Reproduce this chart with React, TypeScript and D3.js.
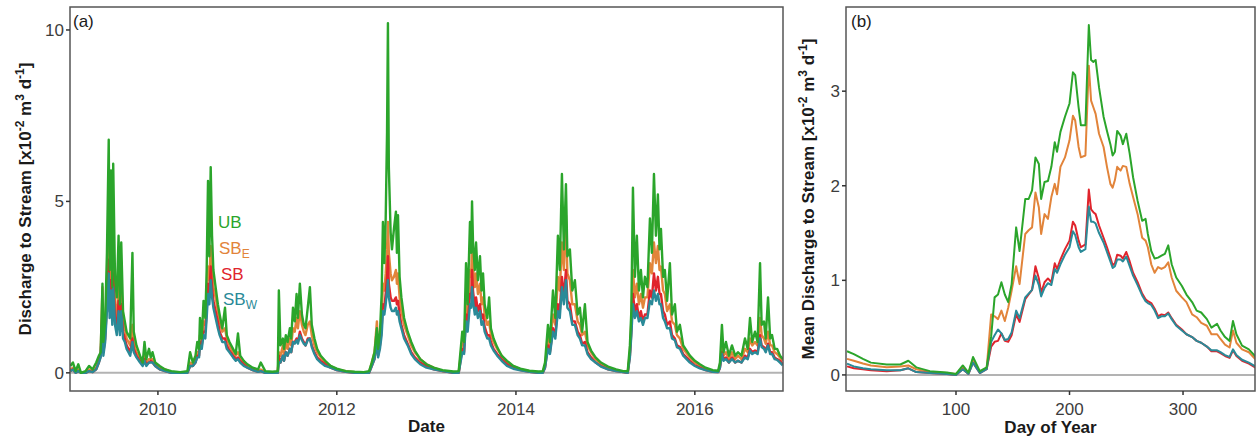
import React from 'react';
import * as d3 from 'd3';

// panel (a): daily discharge, time as decimal year
const decYear = [
  2009.02, 2009.05, 2009.08, 2009.11, 2009.14, 2009.19, 2009.23, 2009.27, 2009.31, 2009.34,
  2009.36, 2009.38, 2009.39, 2009.41, 2009.43, 2009.45, 2009.46, 2009.475, 2009.49, 2009.50,
  2009.52, 2009.54, 2009.56, 2009.575, 2009.59, 2009.61, 2009.63, 2009.65, 2009.67, 2009.69,
  2009.715, 2009.73, 2009.76, 2009.80, 2009.83, 2009.85, 2009.87, 2009.90, 2009.92, 2009.94,
  2009.97, 2010.02, 2010.08, 2010.15, 2010.25, 2010.33,
  2010.36, 2010.39, 2010.42, 2010.44, 2010.46, 2010.47, 2010.49, 2010.51, 2010.53, 2010.545,
  2010.56, 2010.575, 2010.59, 2010.605, 2010.62, 2010.645, 2010.67, 2010.69, 2010.72, 2010.75,
  2010.77, 2010.80, 2010.84, 2010.87, 2010.895, 2010.92, 2010.96, 2011.00, 2011.06, 2011.12,
  2011.15, 2011.20, 2011.28, 2011.34,
  2011.352, 2011.37, 2011.397, 2011.41, 2011.43, 2011.45, 2011.475, 2011.49, 2011.51, 2011.53,
  2011.55, 2011.565, 2011.587, 2011.61, 2011.631, 2011.65, 2011.675, 2011.699, 2011.72, 2011.75,
  2011.78, 2011.82, 2011.87, 2011.93, 2012.00, 2012.10, 2012.20, 2012.30, 2012.36,
  2012.39, 2012.42, 2012.447, 2012.46, 2012.481, 2012.50, 2012.514, 2012.53, 2012.545, 2012.56,
  2012.57, 2012.58, 2012.60, 2012.615, 2012.637, 2012.659, 2012.67, 2012.682, 2012.70, 2012.72,
  2012.75, 2012.79, 2012.83, 2012.87, 2012.93, 2013.00, 2013.08, 2013.18, 2013.30, 2013.36,
  2013.40, 2013.42, 2013.442, 2013.46, 2013.486, 2013.50, 2013.509, 2013.52, 2013.54, 2013.554,
  2013.575, 2013.598, 2013.615, 2013.632, 2013.65, 2013.68, 2013.70, 2013.72, 2013.75, 2013.79,
  2013.84, 2013.90, 2013.97, 2014.05, 2014.15, 2014.25, 2014.30,
  2014.325, 2014.358, 2014.38, 2014.414, 2014.44, 2014.469, 2014.49, 2014.514, 2014.536, 2014.559,
  2014.575, 2014.603, 2014.63, 2014.659, 2014.69, 2014.715, 2014.74, 2014.771, 2014.80, 2014.84,
  2014.89, 2014.95, 2015.03, 2015.12, 2015.20, 2015.25,
  2015.274, 2015.29, 2015.308, 2015.33, 2015.352, 2015.375, 2015.397, 2015.42, 2015.442, 2015.47,
  2015.498, 2015.52, 2015.543, 2015.565, 2015.587, 2015.605, 2015.621, 2015.645, 2015.665, 2015.69,
  2015.721, 2015.745, 2015.777, 2015.80, 2015.833, 2015.87, 2015.945, 2016.00, 2016.056, 2016.12,
  2016.20, 2016.26,
  2016.28, 2016.302, 2016.32, 2016.347, 2016.38, 2016.414, 2016.45, 2016.481, 2016.52, 2016.559,
  2016.59, 2016.615, 2016.64, 2016.671, 2016.70, 2016.727, 2016.745, 2016.771, 2016.79, 2016.816,
  2016.84, 2016.861, 2016.89, 2016.917, 2016.95, 2016.98,
];

const ubDaily = [
  0.2, 0.3, 0.05, 0.25, 0.0, 0.05, 0.2, 0.1, 0.3, 0.5,
  0.6, 2.6, 0.9, 1.5, 3.5, 6.8, 3.0, 5.9, 2.5, 6.1,
  2.8, 2.2, 4.0, 2.0, 3.8, 1.8, 1.5, 1.2, 1.1, 1.0,
  3.5, 1.2, 0.8, 0.5, 0.3, 0.9, 0.4, 0.7, 0.45, 0.6,
  0.3, 0.2, 0.1, 0.05, 0.02, 0.05,
  0.6, 0.3, 0.5, 0.9, 0.7, 1.6, 1.0, 2.1, 1.6, 3.0,
  5.6, 3.4, 6.0, 4.0, 3.0, 2.5, 2.0, 1.7, 1.3, 1.9,
  1.1, 0.9, 0.7, 0.55, 1.15, 0.5, 0.35, 0.25, 0.15, 0.1,
  0.3, 0.05, 0.03, 0.05,
  2.4, 0.8, 1.0, 0.7, 1.1, 0.9, 1.3, 1.0, 1.9, 1.5,
  2.3, 1.6, 2.6, 1.7, 1.4, 1.3, 1.9, 2.5, 1.4, 1.0,
  0.7, 0.5, 0.35, 0.2, 0.12, 0.05, 0.03, 0.02, 0.05,
  0.3, 0.6, 1.3, 0.7, 1.2, 2.3, 4.4, 3.2, 4.5, 7.0,
  10.2, 6.0, 4.1, 3.6, 4.2, 4.7, 3.5, 4.6, 2.8, 2.2,
  1.6, 1.2, 0.9, 0.65, 0.4, 0.25, 0.15, 0.08, 0.04, 0.05,
  1.2, 0.9, 3.2, 2.0, 4.4, 3.5, 5.0, 3.8, 3.0, 3.8,
  2.7, 3.4, 2.4, 2.9, 2.0, 1.6, 2.2, 1.3, 1.0, 0.75,
  0.5, 0.35, 0.2, 0.12, 0.06, 0.04, 0.05,
  0.3, 1.4, 0.9, 2.4, 1.6, 4.0, 3.0, 5.8, 3.6, 5.5,
  3.4, 3.6, 2.4, 2.7, 1.7, 1.9, 1.2, 2.0, 0.9, 0.65,
  0.45, 0.3, 0.18, 0.1, 0.05, 0.05,
  0.8, 1.8, 5.4, 2.8, 4.0, 2.4, 3.0, 2.2, 2.8, 2.5,
  4.5, 3.5, 5.8, 4.0, 5.2, 3.6, 4.2, 2.8, 3.0, 2.1,
  3.2, 1.7, 2.0, 1.2, 1.4, 0.8, 0.5, 0.35, 0.25, 0.15,
  0.08, 0.06,
  0.3, 1.4, 0.6, 0.9, 0.5, 0.8, 0.5, 0.6, 0.5, 1.0,
  0.7, 1.6, 0.9, 1.2, 0.9, 3.2, 1.4, 1.5, 1.0, 2.2,
  1.0, 1.1, 0.7, 0.7, 0.5, 0.4,
];

const sbeDaily = [
  0.1, 0.15, 0.02, 0.1, 0, 0, 0.1, 0.05, 0.15, 0.4,
  0.6, 2.5, 0.8, 1.3, 2.6, 3.9, 2.2, 3.3, 2.0, 3.5,
  2.0, 1.6, 2.6, 1.6, 2.6, 1.5, 1.3, 1.0, 0.9, 0.8,
  1.4, 0.9, 0.6, 0.45, 0.3, 0.5, 0.3, 0.4, 0.4, 0.4,
  0.25, 0.15, 0.1, 0.02, 0, 0.02,
  0.3, 0.25, 0.4, 0.6, 0.6, 1.1, 0.9, 1.5, 1.4, 2.2,
  3.1, 2.7, 3.7, 3.0, 2.5, 2.2, 1.8, 1.5, 1.2, 1.3,
  1.0, 0.8, 0.6, 0.5, 0.6, 0.45, 0.3, 0.2, 0.1, 0.05,
  0.1, 0.02, 0, 0.02,
  0.6, 0.5, 0.8, 0.5, 0.9, 0.7, 1.0, 0.8, 1.3, 1.2,
  1.6, 1.3, 1.8, 1.4, 1.2, 1.1, 1.4, 1.5, 1.1, 0.8,
  0.6, 0.45, 0.3, 0.2, 0.1, 0.05, 0.02, 0, 0.02,
  0.3, 0.6, 1.5, 0.6, 1.0, 1.6, 2.6, 2.4, 2.9, 3.6,
  4.4, 3.5, 2.9, 2.7, 2.8, 3.0, 2.6, 2.9, 2.2, 1.8,
  1.4, 1.1, 0.8, 0.6, 0.4, 0.25, 0.15, 0.05, 0.02, 0.02,
  0.9, 0.8, 2.2, 1.7, 3.0, 2.8, 3.9, 3.1, 2.5, 2.9,
  2.3, 2.6, 2.0, 2.2, 1.7, 1.4, 1.5, 1.1, 0.9, 0.7,
  0.5, 0.3, 0.2, 0.1, 0.05, 0.02, 0.03,
  0.2, 1.0, 0.8, 1.7, 1.4, 2.8, 2.4, 3.8, 3.0, 4.6,
  2.9, 2.7, 2.0, 2.0, 1.5, 1.4, 1.1, 1.2, 0.8, 0.6,
  0.4, 0.25, 0.15, 0.08, 0.03, 0.02,
  0.6, 1.5, 3.0, 2.2, 2.6, 2.0, 2.3, 1.9, 2.2, 2.2,
  3.2, 2.9, 3.8, 3.2, 3.7, 3.0, 3.1, 2.4, 2.3, 1.8,
  2.0, 1.5, 1.4, 1.1, 1.0, 0.7, 0.45, 0.3, 0.2, 0.12,
  0.05, 0.03,
  0.2, 0.8, 0.5, 0.6, 0.4, 0.6, 0.4, 0.5, 0.4, 0.7,
  0.6, 1.0, 0.8, 0.9, 0.8, 1.6, 1.1, 1.0, 0.85, 1.2,
  0.8, 0.8, 0.6, 0.55, 0.45, 0.35,
];

const sbDaily = [
  0.05, 0.1, 0, 0.05, 0, 0, 0.05, 0.02, 0.1, 0.3,
  0.5, 1.8, 0.6, 1.0, 2.0, 3.3, 1.8, 2.7, 1.6, 2.9,
  1.6, 1.3, 2.1, 1.3, 2.0, 1.2, 1.0, 0.8, 0.7, 0.6,
  1.0, 0.7, 0.5, 0.35, 0.25, 0.4, 0.25, 0.3, 0.35, 0.3,
  0.2, 0.1, 0.05, 0, 0, 0,
  0.2, 0.2, 0.3, 0.5, 0.5, 0.9, 0.8, 1.2, 1.2, 1.8,
  2.6, 2.3, 3.1, 2.5, 2.1, 1.8, 1.5, 1.2, 1.0, 1.0,
  0.8, 0.65, 0.5, 0.4, 0.45, 0.35, 0.25, 0.15, 0.08, 0.03,
  0.05, 0, 0, 0,
  0.5, 0.3, 0.5, 0.35, 0.6, 0.5, 0.7, 0.6, 0.9, 0.9,
  1.0, 0.9, 1.2, 1.0, 0.9, 0.8, 1.0, 1.0, 0.8, 0.6,
  0.45, 0.35, 0.25, 0.15, 0.08, 0.03, 0, 0, 0,
  0.2, 0.4, 1.0, 0.5, 0.8, 1.3, 2.0, 1.9, 2.3, 2.8,
  3.4, 2.6, 2.2, 2.1, 2.1, 2.2, 2.0, 2.1, 1.7, 1.4,
  1.1, 0.85, 0.6, 0.45, 0.3, 0.2, 0.1, 0.05, 0, 0,
  0.7, 0.6, 1.7, 1.4, 2.3, 2.2, 3.0, 2.4, 1.9, 2.2,
  1.8, 2.0, 1.6, 1.7, 1.35, 1.1, 1.1, 0.9, 0.7, 0.55,
  0.4, 0.25, 0.15, 0.08, 0.03, 0, 0,
  0.15, 0.8, 0.6, 1.3, 1.1, 2.0, 1.8, 2.8, 2.2, 3.0,
  2.1, 2.0, 1.5, 1.5, 1.2, 1.1, 0.85, 0.9, 0.6, 0.45,
  0.3, 0.2, 0.1, 0.05, 0.02, 0,
  0.5, 1.2, 2.3, 1.8, 2.0, 1.6, 1.8, 1.5, 1.7, 1.7,
  2.4, 2.2, 2.9, 2.4, 2.8, 2.3, 2.3, 1.8, 1.7, 1.4,
  1.5, 1.1, 1.0, 0.8, 0.75, 0.55, 0.35, 0.22, 0.15, 0.08,
  0.03, 0.02,
  0.15, 0.6, 0.4, 0.45, 0.3, 0.45, 0.3, 0.35, 0.3, 0.5,
  0.45, 0.7, 0.6, 0.65, 0.6, 1.1, 0.8, 0.75, 0.65, 0.85,
  0.6, 0.6, 0.45, 0.4, 0.35, 0.25,
];

const sbwDaily = [
  0.05, 0.1, 0, 0.05, 0, 0, 0.05, 0.02, 0.1, 0.3,
  0.45, 1.6, 0.5, 0.9, 1.8, 2.9, 1.6, 2.4, 1.4, 2.5,
  1.4, 1.1, 1.8, 1.1, 1.8, 1.0, 0.9, 0.7, 0.6, 0.5,
  0.9, 0.6, 0.45, 0.3, 0.2, 0.35, 0.2, 0.3, 0.3, 0.3,
  0.2, 0.1, 0.05, 0, 0, 0,
  0.2, 0.2, 0.3, 0.45, 0.45, 0.8, 0.7, 1.1, 1.0, 1.6,
  2.3, 2.0, 2.7, 2.2, 1.9, 1.6, 1.3, 1.1, 0.9, 0.9,
  0.7, 0.6, 0.45, 0.35, 0.4, 0.3, 0.2, 0.15, 0.08, 0.03,
  0.05, 0, 0, 0,
  0.3, 0.3, 0.5, 0.35, 0.6, 0.5, 0.7, 0.6, 0.9, 0.85,
  0.95, 0.85, 1.1, 0.95, 0.85, 0.8, 0.95, 1.0, 0.75, 0.55,
  0.4, 0.3, 0.2, 0.15, 0.08, 0.03, 0, 0, 0,
  0.2, 0.4, 0.9, 0.45, 0.7, 1.1, 1.8, 1.7, 2.0, 2.4,
  2.7, 2.2, 1.9, 1.8, 1.8, 1.9, 1.7, 1.8, 1.5, 1.3,
  1.0, 0.8, 0.55, 0.4, 0.25, 0.15, 0.1, 0.05, 0, 0,
  0.6, 0.55, 1.5, 1.2, 2.0, 1.9, 2.5, 2.1, 1.7, 1.9,
  1.6, 1.8, 1.4, 1.5, 1.2, 1.0, 1.0, 0.8, 0.65, 0.5,
  0.35, 0.2, 0.12, 0.07, 0.03, 0, 0,
  0.15, 0.7, 0.55, 1.2, 1.0, 1.8, 1.6, 2.5, 2.0, 2.7,
  1.9, 1.8, 1.4, 1.4, 1.1, 1.0, 0.8, 0.8, 0.55, 0.4,
  0.3, 0.18, 0.1, 0.05, 0.02, 0,
  0.45, 1.1, 2.0, 1.6, 1.8, 1.5, 1.6, 1.4, 1.6, 1.6,
  2.1, 2.0, 2.4, 2.1, 2.3, 2.0, 2.0, 1.6, 1.5, 1.3,
  1.3, 1.0, 0.95, 0.75, 0.7, 0.5, 0.3, 0.2, 0.13, 0.08,
  0.03, 0.02,
  0.15, 0.55, 0.35, 0.4, 0.3, 0.4, 0.3, 0.35, 0.3, 0.45,
  0.4, 0.65, 0.55, 0.6, 0.55, 1.0, 0.75, 0.7, 0.6, 0.8,
  0.55, 0.55, 0.4, 0.38, 0.3, 0.22,
];

// panel (b): mean by day of year
const dayOfYear = [
  4, 10, 18, 25, 39, 51, 58, 65, 77, 92,
  100, 106, 111, 115, 121, 127, 131, 134, 137, 140,
  143, 146, 149, 153, 156, 161, 164, 167, 170, 173,
  175, 178, 181, 184, 187, 189, 192, 196, 200, 203,
  205, 208, 210, 214, 217, 219, 221, 223, 226, 230,
  233, 236, 238, 240, 242, 245, 247, 250, 253, 256,
  260, 264, 267, 269, 272, 275, 278, 281, 284, 287,
  290, 294, 299, 303, 308, 312, 316, 321, 325, 330,
  333, 337, 341, 344, 347, 352, 358, 365,
];

const ubMean = [
  0.25, 0.22, 0.17, 0.13, 0.11, 0.11, 0.15, 0.08, 0.04, 0.025,
  0.01, 0.1, 0.025, 0.19, 0.04, 0.08, 0.41, 0.82, 0.85, 0.98,
  0.85, 0.77, 0.96, 1.56, 1.31, 1.86, 1.86, 1.95, 2.3, 2.23,
  1.86, 2.04, 2.05, 2.2, 2.46, 2.36, 2.57, 2.73, 2.87, 3.2,
  3.17, 2.83, 2.64, 2.64, 3.7, 3.33, 3.31, 3.33, 3.04, 2.73,
  2.58, 2.44, 2.32, 2.36, 2.58, 2.53, 2.44, 2.55, 2.34, 2.09,
  1.84, 1.63, 1.65, 1.49, 1.31, 1.23, 1.24, 1.26, 1.28, 1.37,
  1.17, 1.03, 0.94, 0.85, 0.77, 0.68, 0.66, 0.59, 0.5, 0.54,
  0.47, 0.4, 0.36, 0.57, 0.43, 0.31, 0.27, 0.18,
];

const sbeMean = [
  0.17, 0.15, 0.12, 0.1, 0.08, 0.09, 0.1, 0.06, 0.03, 0.02,
  0.01, 0.08, 0.02, 0.17, 0.03, 0.07, 0.64, 0.62, 0.59, 0.68,
  0.57, 0.71, 0.89, 1.15, 0.96, 1.49, 1.53, 1.56, 1.93, 1.77,
  1.49, 1.7, 1.65, 1.88, 2.02, 1.91, 2.2, 2.3, 2.48, 2.74,
  2.69, 2.41, 2.3, 2.32, 3.27, 2.9, 2.83, 2.76, 2.55, 2.41,
  2.2, 2.02, 1.98, 2.06, 2.2, 2.16, 2.21, 2.2, 2.02, 1.88,
  1.7, 1.45, 1.42, 1.35, 1.17, 1.08, 1.14, 1.12, 1.14, 1.19,
  1.03, 0.89, 0.82, 0.77, 0.64, 0.61, 0.55, 0.52, 0.43, 0.43,
  0.38, 0.32, 0.29, 0.47, 0.34, 0.27, 0.24, 0.15,
];

const sbMean = [
  0.09, 0.07, 0.06, 0.05, 0.04, 0.05, 0.07, 0.03, 0.02, 0.01,
  0.0, 0.06, 0.01, 0.13, 0.02, 0.06, 0.3, 0.35, 0.36, 0.44,
  0.36, 0.35, 0.42, 0.64, 0.56, 0.8, 0.85, 0.9, 1.15, 1.02,
  0.87, 0.98, 1.02, 0.98, 1.18, 1.12, 1.22, 1.33, 1.42, 1.62,
  1.58, 1.42, 1.35, 1.38, 1.96, 1.75, 1.72, 1.7, 1.58, 1.45,
  1.35, 1.24, 1.16, 1.18, 1.27, 1.26, 1.23, 1.3, 1.2, 1.08,
  0.98, 0.86, 0.8, 0.78, 0.76, 0.7, 0.62, 0.64, 0.63, 0.66,
  0.6, 0.53, 0.48, 0.43, 0.4, 0.36, 0.34, 0.3, 0.25, 0.25,
  0.23, 0.2, 0.18, 0.26, 0.2, 0.15, 0.12, 0.07,
];

const sbwMean = [
  0.12, 0.09, 0.07, 0.06, 0.05, 0.05, 0.07, 0.03, 0.02, 0.01,
  0.0, 0.06, 0.01, 0.13, 0.02, 0.06, 0.35, 0.42, 0.48, 0.44,
  0.37, 0.38, 0.45, 0.68, 0.6, 0.82, 0.86, 0.9, 1.05, 0.95,
  0.83, 0.92, 0.97, 0.95, 1.12, 1.08, 1.17, 1.27, 1.35, 1.52,
  1.48, 1.35, 1.3, 1.33, 1.78, 1.62, 1.62, 1.6, 1.5, 1.4,
  1.3, 1.2, 1.13, 1.15, 1.22, 1.22, 1.2, 1.25, 1.15, 1.05,
  0.95, 0.84, 0.78, 0.76, 0.74, 0.68, 0.6, 0.62, 0.62, 0.65,
  0.59, 0.52, 0.47, 0.43, 0.4, 0.36, 0.34, 0.3, 0.26, 0.26,
  0.24, 0.21, 0.19, 0.27, 0.21, 0.16, 0.13, 0.08,
];

const leftYTicks = [0, 5, 10];
const rightYTicks = [0, 1, 2, 3];
const rightXTicks = [100, 200, 300];

const COLORS = { UB: '#2ba52b', SBE: '#e2843a', SB: '#e0242c', SBW: '#2a8a98' };
const FONT = '"Liberation Sans", Arial, Helvetica, sans-serif';
const TICK_COL = '#3d3d3d';

const toDate = (t: number) => {
  const y = Math.floor(t);
  const a = Date.UTC(y, 0, 1);
  const b = Date.UTC(y + 1, 0, 1);
  return new Date(a + (t - y) * (b - a));
};

function AxisTitle({ x, y, rotate, children }: any) {
  return (
    <text
      transform={`translate(${x},${y})${rotate ? ' rotate(-90)' : ''}`}
      textAnchor="middle"
      fontWeight="bold"
      fontSize={17}
      fill="#1a1a1a"
    >
      {children}
    </text>
  );
}

function UnitLabel({ prefix }: { prefix: string }) {
  return (
    <>
      <tspan>{prefix} [x10</tspan>
      <tspan fontSize={12} dy={-7}>-2</tspan>
      <tspan dy={7}> m</tspan>
      <tspan fontSize={12} dy={-7}>3</tspan>
      <tspan dy={7}> d</tspan>
      <tspan fontSize={12} dy={-7}>-1</tspan>
      <tspan dy={7}>]</tspan>
    </>
  );
}

export default function App() {
  // panel boxes
  const L = { x0: 70, x1: 783, y0: 7, y1: 391 };
  const R = { x0: 846, x1: 1255, y0: 7, y1: 391 };

  const xL = d3.scaleUtc().domain([toDate(2009.017), toDate(2016.983)]).range([L.x0, L.x1]);
  const yL = d3.scaleLinear().domain([-0.53, 10.67]).range([L.y1, L.y0]);
  const xR = d3.scaleLinear().domain([3.1, 363.4]).range([R.x0, R.x1]);
  const yR = d3.scaleLinear().domain([-0.17, 3.89]).range([R.y1, R.y0]);

  const dates = decYear.map(toDate);
  const lineL = (vals: number[]) =>
    d3.line<number>().x((_, i) => xL(dates[i])).y((d) => yL(d))(vals) || '';
  const lineR = (vals: number[]) =>
    d3.line<number>().x((_, i) => xR(dayOfYear[i])).y((d) => yR(d))(vals) || '';

  const seriesL = [
    { v: sbeDaily, c: COLORS.SBE },
    { v: sbDaily, c: COLORS.SB },
    { v: sbwDaily, c: COLORS.SBW },
    { v: ubDaily, c: COLORS.UB },
  ];
  const seriesR = [
    { v: sbeMean, c: COLORS.SBE },
    { v: sbMean, c: COLORS.SB },
    { v: sbwMean, c: COLORS.SBW },
    { v: ubMean, c: COLORS.UB },
  ];
  const yearTicks = xL.ticks(d3.utcYear.every(2) as any).filter((d) => d.getUTCFullYear() >= 2010);

  return (
    <svg
      width={1258}
      height={436}
      style={{ position: 'fixed', left: 0, top: 0, background: '#fff' }}
      fontFamily={FONT}
    >
      <defs>
        <clipPath id="clipL">
          <rect x={L.x0} y={L.y0} width={L.x1 - L.x0} height={L.y1 - L.y0} />
        </clipPath>
        <clipPath id="clipR">
          <rect x={R.x0} y={R.y0} width={R.x1 - R.x0} height={R.y1 - R.y0} />
        </clipPath>
      </defs>

      {/* panel a */}
      <line x1={L.x0} x2={L.x1} y1={yL(0)} y2={yL(0)} stroke="#b3b3b3" strokeWidth={2} />
      <g clipPath="url(#clipL)">
        {seriesL.map((s, i) => (
          <path key={i} d={lineL(s.v)} fill="none" stroke={s.c} strokeWidth={2.4} strokeLinejoin="round" />
        ))}
      </g>
      <rect x={L.x0} y={L.y0} width={L.x1 - L.x0} height={L.y1 - L.y0} fill="none" stroke="#555" strokeWidth={1.5} />
      {leftYTicks.map((t) => (
        <g key={t}>
          <line x1={L.x0 - 4} x2={L.x0} y1={yL(t)} y2={yL(t)} stroke="#333" strokeWidth={1.5} />
          <text x={L.x0 - 6} y={yL(t)} dy="0.35em" textAnchor="end" fontSize={17} fill={TICK_COL}>{t}</text>
        </g>
      ))}
      {yearTicks.map((d) => (
        <g key={d.toISOString()}>
          <line x1={xL(d)} x2={xL(d)} y1={L.y1} y2={L.y1 + 4} stroke="#333" strokeWidth={1.5} />
          <text x={xL(d)} y={415} textAnchor="middle" fontSize={17} fill={TICK_COL}>{d3.utcFormat('%Y')(d)}</text>
        </g>
      ))}
      <text x={73} y={27} fontSize={17} fill="#1a1a1a">(a)</text>
      <AxisTitle x={(L.x0 + L.x1) / 2} y={432}>Date</AxisTitle>
      <AxisTitle x={31} y={(L.y0 + L.y1) / 2} rotate>
        <UnitLabel prefix="Discharge to Stream" />
      </AxisTitle>

      {/* legend labels */}
      <g fontSize={17}>
        <text x={218} y={228} fill={COLORS.UB}>UB</text>
        <text x={219} y={254} fill={COLORS.SBE}>SB<tspan fontSize={12} dy={4}>E</tspan></text>
        <text x={221} y={280} fill={COLORS.SB}>SB</text>
        <text x={223} y={305} fill={COLORS.SBW}>SB<tspan fontSize={12} dy={4}>W</tspan></text>
      </g>

      {/* panel b */}
      <line x1={R.x0} x2={R.x1} y1={yR(0)} y2={yR(0)} stroke="#b3b3b3" strokeWidth={2} />
      <g clipPath="url(#clipR)">
        {seriesR.map((s, i) => (
          <path key={i} d={lineR(s.v)} fill="none" stroke={s.c} strokeWidth={2} strokeLinejoin="round" />
        ))}
      </g>
      <rect x={R.x0} y={R.y0} width={R.x1 - R.x0} height={R.y1 - R.y0} fill="none" stroke="#555" strokeWidth={1.5} />
      {rightYTicks.map((t) => (
        <g key={t}>
          <line x1={R.x0 - 4} x2={R.x0} y1={yR(t)} y2={yR(t)} stroke="#333" strokeWidth={1.5} />
          <text x={R.x0 - 6} y={yR(t)} dy="0.35em" textAnchor="end" fontSize={17} fill={TICK_COL}>{t}</text>
        </g>
      ))}
      {rightXTicks.map((t) => (
        <g key={t}>
          <line x1={xR(t)} x2={xR(t)} y1={R.y1} y2={R.y1 + 4} stroke="#333" strokeWidth={1.5} />
          <text x={xR(t)} y={415} textAnchor="middle" fontSize={17} fill={TICK_COL}>{t}</text>
        </g>
      ))}
      <text x={851} y={27} fontSize={17} fill="#1a1a1a">(b)</text>
      <AxisTitle x={(R.x0 + R.x1) / 2} y={433}>Day of Year</AxisTitle>
      <AxisTitle x={814} y={(R.y0 + R.y1) / 2} rotate>
        <UnitLabel prefix="Mean Discharge to Stream" />
      </AxisTitle>
    </svg>
  );
}
